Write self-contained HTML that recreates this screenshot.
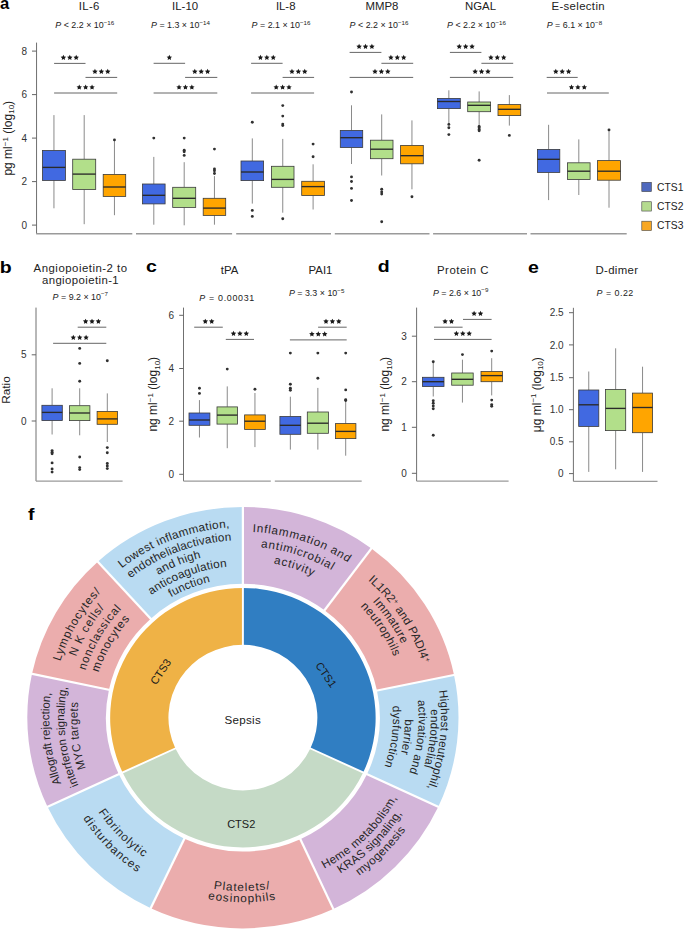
<!DOCTYPE html>
<html><head><meta charset="utf-8"><style>
*{margin:0;padding:0}
html,body{width:685px;height:929px;background:#fff;overflow:hidden}
svg{display:block;font-family:"Liberation Sans", sans-serif}
.wh{stroke:#8a8a8a;stroke-width:1}
.bx{stroke:#3a3a3a;stroke-width:0.8}
.md{stroke:#2a2a2a;stroke-width:1.35}
.ol{fill:#303030}
.sg{stroke:#666;stroke-width:1}
.sp{fill:#1a1a1a}
.st{font-size:10px;fill:#222;text-anchor:middle;letter-spacing:0.3px}
.ya{stroke:#707070;stroke-width:1}
.xa{stroke:#9a9a9a;stroke-width:1.4}
.tk{stroke:#666;stroke-width:1}
.tl{font-size:10px;fill:#333}
.ti{font-size:11.4px;fill:#222}
.pv{font-size:8.9px;fill:#222}
.yl{font-size:12px;fill:#222}
.lg{font-size:10.3px;fill:#222}
.pl{font-size:16px;font-weight:bold;fill:#000}
.dn{font-size:11px;fill:#1a1a1a}
.ot{font-size:10.5px;fill:#262626;letter-spacing:0.6px}
</style></head>
<body><svg width="685" height="929" viewBox="0 0 685 929">
<line x1="36.55" y1="42.6" x2="36.55" y2="233.7" class="ya"/>
<line x1="32" y1="51.1" x2="36.55" y2="51.1" class="tk"/>
<text x="27.00" y="54.70" class="tl" text-anchor="end" >8</text>
<line x1="32" y1="94.6" x2="36.55" y2="94.6" class="tk"/>
<text x="27.00" y="98.20" class="tl" text-anchor="end" >6</text>
<line x1="32" y1="138.1" x2="36.55" y2="138.1" class="tk"/>
<text x="27.00" y="141.70" class="tl" text-anchor="end" >4</text>
<line x1="32" y1="181.6" x2="36.55" y2="181.6" class="tk"/>
<text x="27.00" y="185.20" class="tl" text-anchor="end" >2</text>
<line x1="32" y1="225.1" x2="36.55" y2="225.1" class="tk"/>
<text x="27.00" y="228.70" class="tl" text-anchor="end" >0</text>
<line x1="36.2" y1="233.7" x2="132.3" y2="233.7" class="xa"/>
<line x1="136.0" y1="233.7" x2="232.1" y2="233.7" class="xa"/>
<line x1="236.2" y1="233.7" x2="331.0" y2="233.7" class="xa"/>
<line x1="334.8" y1="233.7" x2="429.5" y2="233.7" class="xa"/>
<line x1="433.1" y1="233.7" x2="527.0" y2="233.7" class="xa"/>
<line x1="530.5" y1="233.7" x2="626.7" y2="233.7" class="xa"/>
<line x1="53.95" y1="115.10" x2="53.95" y2="150.50" class="wh"/>
<line x1="53.95" y1="180.40" x2="53.95" y2="208.30" class="wh"/>
<rect x="42.50" y="150.50" width="22.90" height="29.90" fill="#4169E1" class="bx"/>
<line x1="42.50" y1="167.40" x2="65.40" y2="167.40" class="md"/>
<line x1="84.20" y1="115.10" x2="84.20" y2="159.20" class="wh"/>
<line x1="84.20" y1="189.50" x2="84.20" y2="224.20" class="wh"/>
<rect x="72.70" y="159.20" width="23.00" height="30.30" fill="#B2DF8A" class="bx"/>
<line x1="72.70" y1="174.10" x2="95.70" y2="174.10" class="md"/>
<line x1="114.45" y1="139.90" x2="114.45" y2="174.40" class="wh"/>
<line x1="114.45" y1="196.40" x2="114.45" y2="215.20" class="wh"/>
<rect x="103.20" y="174.40" width="22.50" height="22.00" fill="#FFA500" class="bx"/>
<line x1="103.20" y1="187.00" x2="125.70" y2="187.00" class="md"/>
<circle cx="114.45" cy="139.90" r="1.45" class="ol"/>
<line x1="153.80" y1="156.90" x2="153.80" y2="184.00" class="wh"/>
<line x1="153.80" y1="203.90" x2="153.80" y2="224.70" class="wh"/>
<rect x="142.50" y="184.00" width="22.60" height="19.90" fill="#4169E1" class="bx"/>
<line x1="142.50" y1="195.30" x2="165.10" y2="195.30" class="md"/>
<circle cx="153.80" cy="138.10" r="1.45" class="ol"/>
<line x1="184.20" y1="162.20" x2="184.20" y2="187.30" class="wh"/>
<line x1="184.20" y1="207.40" x2="184.20" y2="225.30" class="wh"/>
<rect x="172.70" y="187.30" width="23.00" height="20.10" fill="#B2DF8A" class="bx"/>
<line x1="172.70" y1="198.30" x2="195.70" y2="198.30" class="md"/>
<circle cx="184.20" cy="138.10" r="1.45" class="ol"/>
<circle cx="184.20" cy="150.20" r="1.45" class="ol"/>
<circle cx="184.20" cy="151.70" r="1.45" class="ol"/>
<circle cx="184.20" cy="155.40" r="1.45" class="ol"/>
<line x1="214.45" y1="176.10" x2="214.45" y2="198.30" class="wh"/>
<line x1="214.45" y1="215.40" x2="214.45" y2="224.70" class="wh"/>
<rect x="203.20" y="198.30" width="22.50" height="17.10" fill="#FFA500" class="bx"/>
<line x1="203.20" y1="208.10" x2="225.70" y2="208.10" class="md"/>
<circle cx="214.45" cy="149.10" r="1.45" class="ol"/>
<circle cx="214.45" cy="169.00" r="1.45" class="ol"/>
<circle cx="214.45" cy="170.80" r="1.45" class="ol"/>
<circle cx="214.45" cy="173.50" r="1.45" class="ol"/>
<line x1="252.30" y1="138.40" x2="252.30" y2="161.00" class="wh"/>
<line x1="252.30" y1="180.60" x2="252.30" y2="203.60" class="wh"/>
<rect x="241.00" y="161.00" width="22.60" height="19.60" fill="#4169E1" class="bx"/>
<line x1="241.00" y1="172.00" x2="263.60" y2="172.00" class="md"/>
<circle cx="252.30" cy="122.30" r="1.45" class="ol"/>
<circle cx="252.30" cy="210.40" r="1.45" class="ol"/>
<circle cx="252.30" cy="216.40" r="1.45" class="ol"/>
<line x1="282.75" y1="138.90" x2="282.75" y2="166.30" class="wh"/>
<line x1="282.75" y1="187.30" x2="282.75" y2="212.70" class="wh"/>
<rect x="271.50" y="166.30" width="22.50" height="21.00" fill="#B2DF8A" class="bx"/>
<line x1="271.50" y1="179.40" x2="294.00" y2="179.40" class="md"/>
<circle cx="282.75" cy="105.60" r="1.45" class="ol"/>
<circle cx="282.75" cy="116.10" r="1.45" class="ol"/>
<circle cx="282.75" cy="124.10" r="1.45" class="ol"/>
<circle cx="282.75" cy="125.60" r="1.45" class="ol"/>
<circle cx="282.75" cy="218.70" r="1.45" class="ol"/>
<line x1="313.10" y1="164.30" x2="313.10" y2="181.30" class="wh"/>
<line x1="313.10" y1="195.50" x2="313.10" y2="209.50" class="wh"/>
<rect x="301.70" y="181.30" width="22.80" height="14.20" fill="#FFA500" class="bx"/>
<line x1="301.70" y1="186.60" x2="324.50" y2="186.60" class="md"/>
<circle cx="313.10" cy="144.10" r="1.45" class="ol"/>
<circle cx="313.10" cy="156.80" r="1.45" class="ol"/>
<line x1="351.50" y1="105.30" x2="351.50" y2="130.40" class="wh"/>
<line x1="351.50" y1="147.50" x2="351.50" y2="164.00" class="wh"/>
<rect x="340.30" y="130.40" width="22.40" height="17.10" fill="#4169E1" class="bx"/>
<line x1="340.30" y1="137.70" x2="362.70" y2="137.70" class="md"/>
<circle cx="351.50" cy="92.00" r="1.45" class="ol"/>
<circle cx="351.50" cy="176.90" r="1.45" class="ol"/>
<circle cx="351.50" cy="181.50" r="1.45" class="ol"/>
<circle cx="351.50" cy="188.40" r="1.45" class="ol"/>
<circle cx="351.50" cy="200.50" r="1.45" class="ol"/>
<line x1="381.70" y1="114.40" x2="381.70" y2="140.20" class="wh"/>
<line x1="381.70" y1="158.70" x2="381.70" y2="175.50" class="wh"/>
<rect x="370.40" y="140.20" width="22.60" height="18.50" fill="#B2DF8A" class="bx"/>
<line x1="370.40" y1="149.20" x2="393.00" y2="149.20" class="md"/>
<circle cx="381.70" cy="189.30" r="1.45" class="ol"/>
<circle cx="381.70" cy="191.90" r="1.45" class="ol"/>
<circle cx="381.70" cy="194.10" r="1.45" class="ol"/>
<circle cx="381.70" cy="221.70" r="1.45" class="ol"/>
<line x1="411.95" y1="120.40" x2="411.95" y2="145.40" class="wh"/>
<line x1="411.95" y1="163.80" x2="411.95" y2="189.30" class="wh"/>
<rect x="400.60" y="145.40" width="22.70" height="18.40" fill="#FFA500" class="bx"/>
<line x1="400.60" y1="155.70" x2="423.30" y2="155.70" class="md"/>
<circle cx="411.95" cy="196.70" r="1.45" class="ol"/>
<line x1="448.85" y1="90.30" x2="448.85" y2="98.40" class="wh"/>
<line x1="448.85" y1="108.60" x2="448.85" y2="123.90" class="wh"/>
<rect x="437.40" y="98.40" width="22.90" height="10.20" fill="#4169E1" class="bx"/>
<line x1="437.40" y1="101.50" x2="460.30" y2="101.50" class="md"/>
<circle cx="448.85" cy="124.40" r="1.45" class="ol"/>
<circle cx="448.85" cy="127.80" r="1.45" class="ol"/>
<circle cx="448.85" cy="134.60" r="1.45" class="ol"/>
<line x1="479.15" y1="91.40" x2="479.15" y2="102.00" class="wh"/>
<line x1="479.15" y1="111.70" x2="479.15" y2="126.10" class="wh"/>
<rect x="467.70" y="102.00" width="22.90" height="9.70" fill="#B2DF8A" class="bx"/>
<line x1="467.70" y1="105.30" x2="490.60" y2="105.30" class="md"/>
<circle cx="479.15" cy="126.50" r="1.45" class="ol"/>
<circle cx="479.15" cy="127.80" r="1.45" class="ol"/>
<circle cx="479.15" cy="129.40" r="1.45" class="ol"/>
<circle cx="479.15" cy="130.80" r="1.45" class="ol"/>
<circle cx="479.15" cy="160.20" r="1.45" class="ol"/>
<line x1="509.35" y1="95.10" x2="509.35" y2="104.60" class="wh"/>
<line x1="509.35" y1="115.60" x2="509.35" y2="125.60" class="wh"/>
<rect x="498.00" y="104.60" width="22.70" height="11.00" fill="#FFA500" class="bx"/>
<line x1="498.00" y1="109.30" x2="520.70" y2="109.30" class="md"/>
<circle cx="509.35" cy="135.40" r="1.45" class="ol"/>
<line x1="548.60" y1="124.80" x2="548.60" y2="149.40" class="wh"/>
<line x1="548.60" y1="172.40" x2="548.60" y2="200.10" class="wh"/>
<rect x="537.40" y="149.40" width="22.40" height="23.00" fill="#4169E1" class="bx"/>
<line x1="537.40" y1="159.30" x2="559.80" y2="159.30" class="md"/>
<line x1="578.80" y1="139.40" x2="578.80" y2="162.80" class="wh"/>
<line x1="578.80" y1="179.50" x2="578.80" y2="195.00" class="wh"/>
<rect x="567.50" y="162.80" width="22.60" height="16.70" fill="#B2DF8A" class="bx"/>
<line x1="567.50" y1="171.20" x2="590.10" y2="171.20" class="md"/>
<line x1="609.00" y1="129.90" x2="609.00" y2="160.60" class="wh"/>
<line x1="609.00" y1="180.20" x2="609.00" y2="207.70" class="wh"/>
<rect x="597.50" y="160.60" width="23.00" height="19.60" fill="#FFA500" class="bx"/>
<line x1="597.50" y1="171.20" x2="620.50" y2="171.20" class="md"/>
<circle cx="609.00" cy="129.90" r="1.45" class="ol"/>
<text x="89.30" y="9.90" class="ti" text-anchor="middle" style="letter-spacing:0.35px">IL-6</text>
<text x="185.10" y="9.90" class="ti" text-anchor="middle" >IL-10</text>
<text x="285.70" y="9.90" class="ti" text-anchor="middle" >IL-8</text>
<text x="382.00" y="9.90" class="ti" text-anchor="middle" >MMP8</text>
<text x="480.50" y="9.90" class="ti" text-anchor="middle" >NGAL</text>
<text x="578.20" y="9.90" class="ti" text-anchor="middle" style="letter-spacing:0.35px">E-selectin</text>
<text x="55.30" y="28.40" class="pv"><tspan font-style="italic">P</tspan> &lt; 2.2 × 10<tspan dy="-3.4" font-size="6.2px">−16</tspan></text>
<text x="151.00" y="28.40" class="pv"><tspan font-style="italic">P</tspan> = 1.3 × 10<tspan dy="-3.4" font-size="6.2px">−14</tspan></text>
<text x="251.60" y="28.40" class="pv"><tspan font-style="italic">P</tspan> = 2.1 × 10<tspan dy="-3.4" font-size="6.2px">−16</tspan></text>
<text x="349.60" y="28.40" class="pv"><tspan font-style="italic">P</tspan> &lt; 2.2 × 10<tspan dy="-3.4" font-size="6.2px">−16</tspan></text>
<text x="447.00" y="28.40" class="pv"><tspan font-style="italic">P</tspan> &lt; 2.2 × 10<tspan dy="-3.4" font-size="6.2px">−16</tspan></text>
<text x="546.70" y="28.40" class="pv"><tspan font-style="italic">P</tspan> = 6.1 × 10<tspan dy="-3.4" font-size="6.2px">−8</tspan></text>
<line x1="54.10" y1="63.40" x2="85.50" y2="63.40" class="sg"/>
<polygon points="63.40,54.85 64.22,56.57 66.11,56.82 64.73,58.13 65.08,60.01 63.40,59.10 61.72,60.01 62.07,58.13 60.69,56.82 62.58,56.57" class="sp"/>
<polygon points="69.80,54.85 70.62,56.57 72.51,56.82 71.13,58.13 71.48,60.01 69.80,59.10 68.12,60.01 68.47,58.13 67.09,56.82 68.98,56.57" class="sp"/>
<polygon points="76.20,54.85 77.02,56.57 78.91,56.82 77.53,58.13 77.88,60.01 76.20,59.10 74.52,60.01 74.87,58.13 73.49,56.82 75.38,56.57" class="sp"/>
<line x1="85.50" y1="77.40" x2="117.20" y2="77.40" class="sg"/>
<polygon points="94.95,68.85 95.77,70.57 97.66,70.82 96.28,72.13 96.63,74.01 94.95,73.10 93.27,74.01 93.62,72.13 92.24,70.82 94.13,70.57" class="sp"/>
<polygon points="101.35,68.85 102.17,70.57 104.06,70.82 102.68,72.13 103.03,74.01 101.35,73.10 99.67,74.01 100.02,72.13 98.64,70.82 100.53,70.57" class="sp"/>
<polygon points="107.75,68.85 108.57,70.57 110.46,70.82 109.08,72.13 109.43,74.01 107.75,73.10 106.07,74.01 106.42,72.13 105.04,70.82 106.93,70.57" class="sp"/>
<line x1="54.10" y1="93.00" x2="117.20" y2="93.00" class="sg"/>
<polygon points="79.25,84.45 80.07,86.17 81.96,86.42 80.58,87.73 80.93,89.61 79.25,88.70 77.57,89.61 77.92,87.73 76.54,86.42 78.43,86.17" class="sp"/>
<polygon points="85.65,84.45 86.47,86.17 88.36,86.42 86.98,87.73 87.33,89.61 85.65,88.70 83.97,89.61 84.32,87.73 82.94,86.42 84.83,86.17" class="sp"/>
<polygon points="92.05,84.45 92.87,86.17 94.76,86.42 93.38,87.73 93.73,89.61 92.05,88.70 90.37,89.61 90.72,87.73 89.34,86.42 91.23,86.17" class="sp"/>
<line x1="153.60" y1="63.30" x2="185.10" y2="63.30" class="sg"/>
<polygon points="169.35,54.75 170.17,56.47 172.06,56.72 170.68,58.03 171.03,59.91 169.35,59.00 167.67,59.91 168.02,58.03 166.64,56.72 168.53,56.47" class="sp"/>
<line x1="185.10" y1="77.40" x2="217.30" y2="77.40" class="sg"/>
<polygon points="194.80,68.85 195.62,70.57 197.51,70.82 196.13,72.13 196.48,74.01 194.80,73.10 193.12,74.01 193.47,72.13 192.09,70.82 193.98,70.57" class="sp"/>
<polygon points="201.20,68.85 202.02,70.57 203.91,70.82 202.53,72.13 202.88,74.01 201.20,73.10 199.52,74.01 199.87,72.13 198.49,70.82 200.38,70.57" class="sp"/>
<polygon points="207.60,68.85 208.42,70.57 210.31,70.82 208.93,72.13 209.28,74.01 207.60,73.10 205.92,74.01 206.27,72.13 204.89,70.82 206.78,70.57" class="sp"/>
<line x1="153.60" y1="93.00" x2="217.30" y2="93.00" class="sg"/>
<polygon points="179.05,84.45 179.87,86.17 181.76,86.42 180.38,87.73 180.73,89.61 179.05,88.70 177.37,89.61 177.72,87.73 176.34,86.42 178.23,86.17" class="sp"/>
<polygon points="185.45,84.45 186.27,86.17 188.16,86.42 186.78,87.73 187.13,89.61 185.45,88.70 183.77,89.61 184.12,87.73 182.74,86.42 184.63,86.17" class="sp"/>
<polygon points="191.85,84.45 192.67,86.17 194.56,86.42 193.18,87.73 193.53,89.61 191.85,88.70 190.17,89.61 190.52,87.73 189.14,86.42 191.03,86.17" class="sp"/>
<line x1="251.10" y1="63.30" x2="282.60" y2="63.30" class="sg"/>
<polygon points="260.45,54.75 261.27,56.47 263.16,56.72 261.78,58.03 262.13,59.91 260.45,59.00 258.77,59.91 259.12,58.03 257.74,56.72 259.63,56.47" class="sp"/>
<polygon points="266.85,54.75 267.67,56.47 269.56,56.72 268.18,58.03 268.53,59.91 266.85,59.00 265.17,59.91 265.52,58.03 264.14,56.72 266.03,56.47" class="sp"/>
<polygon points="273.25,54.75 274.07,56.47 275.96,56.72 274.58,58.03 274.93,59.91 273.25,59.00 271.57,59.91 271.92,58.03 270.54,56.72 272.43,56.47" class="sp"/>
<line x1="282.60" y1="77.40" x2="314.10" y2="77.40" class="sg"/>
<polygon points="291.95,68.85 292.77,70.57 294.66,70.82 293.28,72.13 293.63,74.01 291.95,73.10 290.27,74.01 290.62,72.13 289.24,70.82 291.13,70.57" class="sp"/>
<polygon points="298.35,68.85 299.17,70.57 301.06,70.82 299.68,72.13 300.03,74.01 298.35,73.10 296.67,74.01 297.02,72.13 295.64,70.82 297.53,70.57" class="sp"/>
<polygon points="304.75,68.85 305.57,70.57 307.46,70.82 306.08,72.13 306.43,74.01 304.75,73.10 303.07,74.01 303.42,72.13 302.04,70.82 303.93,70.57" class="sp"/>
<line x1="251.10" y1="93.00" x2="314.10" y2="93.00" class="sg"/>
<polygon points="276.20,84.45 277.02,86.17 278.91,86.42 277.53,87.73 277.88,89.61 276.20,88.70 274.52,89.61 274.87,87.73 273.49,86.42 275.38,86.17" class="sp"/>
<polygon points="282.60,84.45 283.42,86.17 285.31,86.42 283.93,87.73 284.28,89.61 282.60,88.70 280.92,89.61 281.27,87.73 279.89,86.42 281.78,86.17" class="sp"/>
<polygon points="289.00,84.45 289.82,86.17 291.71,86.42 290.33,87.73 290.68,89.61 289.00,88.70 287.32,89.61 287.67,87.73 286.29,86.42 288.18,86.17" class="sp"/>
<line x1="349.60" y1="52.40" x2="381.40" y2="52.40" class="sg"/>
<polygon points="359.10,43.85 359.92,45.57 361.81,45.82 360.43,47.13 360.78,49.01 359.10,48.10 357.42,49.01 357.77,47.13 356.39,45.82 358.28,45.57" class="sp"/>
<polygon points="365.50,43.85 366.32,45.57 368.21,45.82 366.83,47.13 367.18,49.01 365.50,48.10 363.82,49.01 364.17,47.13 362.79,45.82 364.68,45.57" class="sp"/>
<polygon points="371.90,43.85 372.72,45.57 374.61,45.82 373.23,47.13 373.58,49.01 371.90,48.10 370.22,49.01 370.57,47.13 369.19,45.82 371.08,45.57" class="sp"/>
<line x1="381.40" y1="63.30" x2="413.20" y2="63.30" class="sg"/>
<polygon points="390.90,54.75 391.72,56.47 393.61,56.72 392.23,58.03 392.58,59.91 390.90,59.00 389.22,59.91 389.57,58.03 388.19,56.72 390.08,56.47" class="sp"/>
<polygon points="397.30,54.75 398.12,56.47 400.01,56.72 398.63,58.03 398.98,59.91 397.30,59.00 395.62,59.91 395.97,58.03 394.59,56.72 396.48,56.47" class="sp"/>
<polygon points="403.70,54.75 404.52,56.47 406.41,56.72 405.03,58.03 405.38,59.91 403.70,59.00 402.02,59.91 402.37,58.03 400.99,56.72 402.88,56.47" class="sp"/>
<line x1="349.60" y1="77.40" x2="413.20" y2="77.40" class="sg"/>
<polygon points="375.00,68.85 375.82,70.57 377.71,70.82 376.33,72.13 376.68,74.01 375.00,73.10 373.32,74.01 373.67,72.13 372.29,70.82 374.18,70.57" class="sp"/>
<polygon points="381.40,68.85 382.22,70.57 384.11,70.82 382.73,72.13 383.08,74.01 381.40,73.10 379.72,74.01 380.07,72.13 378.69,70.82 380.58,70.57" class="sp"/>
<polygon points="387.80,68.85 388.62,70.57 390.51,70.82 389.13,72.13 389.48,74.01 387.80,73.10 386.12,74.01 386.47,72.13 385.09,70.82 386.98,70.57" class="sp"/>
<line x1="449.90" y1="52.40" x2="481.40" y2="52.40" class="sg"/>
<polygon points="459.25,43.85 460.07,45.57 461.96,45.82 460.58,47.13 460.93,49.01 459.25,48.10 457.57,49.01 457.92,47.13 456.54,45.82 458.43,45.57" class="sp"/>
<polygon points="465.65,43.85 466.47,45.57 468.36,45.82 466.98,47.13 467.33,49.01 465.65,48.10 463.97,49.01 464.32,47.13 462.94,45.82 464.83,45.57" class="sp"/>
<polygon points="472.05,43.85 472.87,45.57 474.76,45.82 473.38,47.13 473.73,49.01 472.05,48.10 470.37,49.01 470.72,47.13 469.34,45.82 471.23,45.57" class="sp"/>
<line x1="481.40" y1="63.30" x2="513.20" y2="63.30" class="sg"/>
<polygon points="490.90,54.75 491.72,56.47 493.61,56.72 492.23,58.03 492.58,59.91 490.90,59.00 489.22,59.91 489.57,58.03 488.19,56.72 490.08,56.47" class="sp"/>
<polygon points="497.30,54.75 498.12,56.47 500.01,56.72 498.63,58.03 498.98,59.91 497.30,59.00 495.62,59.91 495.97,58.03 494.59,56.72 496.48,56.47" class="sp"/>
<polygon points="503.70,54.75 504.52,56.47 506.41,56.72 505.03,58.03 505.38,59.91 503.70,59.00 502.02,59.91 502.37,58.03 500.99,56.72 502.88,56.47" class="sp"/>
<line x1="449.90" y1="77.40" x2="513.20" y2="77.40" class="sg"/>
<polygon points="475.15,68.85 475.97,70.57 477.86,70.82 476.48,72.13 476.83,74.01 475.15,73.10 473.47,74.01 473.82,72.13 472.44,70.82 474.33,70.57" class="sp"/>
<polygon points="481.55,68.85 482.37,70.57 484.26,70.82 482.88,72.13 483.23,74.01 481.55,73.10 479.87,74.01 480.22,72.13 478.84,70.82 480.73,70.57" class="sp"/>
<polygon points="487.95,68.85 488.77,70.57 490.66,70.82 489.28,72.13 489.63,74.01 487.95,73.10 486.27,74.01 486.62,72.13 485.24,70.82 487.13,70.57" class="sp"/>
<line x1="546.70" y1="77.40" x2="577.70" y2="77.40" class="sg"/>
<polygon points="555.80,68.85 556.62,70.57 558.51,70.82 557.13,72.13 557.48,74.01 555.80,73.10 554.12,74.01 554.47,72.13 553.09,70.82 554.98,70.57" class="sp"/>
<polygon points="562.20,68.85 563.02,70.57 564.91,70.82 563.53,72.13 563.88,74.01 562.20,73.10 560.52,74.01 560.87,72.13 559.49,70.82 561.38,70.57" class="sp"/>
<polygon points="568.60,68.85 569.42,70.57 571.31,70.82 569.93,72.13 570.28,74.01 568.60,73.10 566.92,74.01 567.27,72.13 565.89,70.82 567.78,70.57" class="sp"/>
<line x1="547.00" y1="93.00" x2="608.80" y2="93.00" class="sg"/>
<polygon points="571.50,84.45 572.32,86.17 574.21,86.42 572.83,87.73 573.18,89.61 571.50,88.70 569.82,89.61 570.17,87.73 568.79,86.42 570.68,86.17" class="sp"/>
<polygon points="577.90,84.45 578.72,86.17 580.61,86.42 579.23,87.73 579.58,89.61 577.90,88.70 576.22,89.61 576.57,87.73 575.19,86.42 577.08,86.17" class="sp"/>
<polygon points="584.30,84.45 585.12,86.17 587.01,86.42 585.63,87.73 585.98,89.61 584.30,88.70 582.62,89.61 582.97,87.73 581.59,86.42 583.48,86.17" class="sp"/>
<text class="yl" transform="translate(11.85,138.25) rotate(-90)" text-anchor="middle">pg ml<tspan dy="-4.2" font-size="8px">−1</tspan><tspan dy="4.2"> (log</tspan><tspan dy="2.6" font-size="8px">10</tspan><tspan dy="-2.6">)</tspan></text>
<rect x="641.8" y="182.30" width="9.6" height="9.3" fill="#4F69BE" stroke="#444" stroke-width="0.6"/>
<text x="657.10" y="190.50" class="lg" text-anchor="start" >CTS1</text>
<rect x="641.8" y="201.75" width="9.6" height="9.3" fill="#B5DB8F" stroke="#444" stroke-width="0.6"/>
<text x="657.10" y="209.95" class="lg" text-anchor="start" >CTS2</text>
<rect x="641.8" y="221.20" width="9.6" height="9.3" fill="#F8A722" stroke="#444" stroke-width="0.6"/>
<text x="657.10" y="229.40" class="lg" text-anchor="start" >CTS3</text>
<text class="pl" transform="translate(0.0,8.8) scale(1.04,1)">a</text>
<text class="pl" transform="translate(-0.3,272.8) scale(1.22,1)">b</text>
<text class="pl" transform="translate(146.0,272.2) scale(1.22,1)">c</text>
<text class="pl" transform="translate(377.8,272.2) scale(1.22,1)">d</text>
<text class="pl" transform="translate(528.0,272.5) scale(1.22,1)">e</text>
<text class="pl" transform="translate(28.0,520.1) scale(1.22,1)">f</text>
<line x1="36" y1="307.6" x2="36" y2="481.1" class="ya"/>
<line x1="36" y1="481.1" x2="122.6" y2="481.1" class="xa"/>
<line x1="31.7" y1="354.8" x2="36" y2="354.8" class="tk"/>
<text x="26.60" y="358.40" class="tl" text-anchor="end" >5</text>
<line x1="31.7" y1="421" x2="36" y2="421" class="tk"/>
<text x="26.60" y="424.60" class="tl" text-anchor="end" >0</text>
<line x1="52.10" y1="388.30" x2="52.10" y2="405.30" class="wh"/>
<line x1="52.10" y1="420.60" x2="52.10" y2="434.50" class="wh"/>
<rect x="41.90" y="405.30" width="20.40" height="15.30" fill="#4169E1" class="bx"/>
<line x1="41.90" y1="412.40" x2="62.30" y2="412.40" class="md"/>
<circle cx="52.10" cy="450.60" r="1.45" class="ol"/>
<circle cx="52.10" cy="452.30" r="1.45" class="ol"/>
<circle cx="52.10" cy="453.70" r="1.45" class="ol"/>
<circle cx="52.10" cy="462.90" r="1.45" class="ol"/>
<circle cx="52.10" cy="469.00" r="1.45" class="ol"/>
<circle cx="52.10" cy="472.10" r="1.45" class="ol"/>
<line x1="79.70" y1="388.30" x2="79.70" y2="405.70" class="wh"/>
<line x1="79.70" y1="420.60" x2="79.70" y2="435.30" class="wh"/>
<rect x="69.50" y="405.70" width="20.40" height="14.90" fill="#B2DF8A" class="bx"/>
<line x1="69.50" y1="413.00" x2="89.90" y2="413.00" class="md"/>
<circle cx="79.70" cy="348.40" r="1.45" class="ol"/>
<circle cx="79.70" cy="363.40" r="1.45" class="ol"/>
<circle cx="79.70" cy="381.30" r="1.45" class="ol"/>
<circle cx="79.70" cy="457.00" r="1.45" class="ol"/>
<circle cx="79.70" cy="467.60" r="1.45" class="ol"/>
<circle cx="79.70" cy="469.60" r="1.45" class="ol"/>
<line x1="107.30" y1="393.40" x2="107.30" y2="411.40" class="wh"/>
<line x1="107.30" y1="424.30" x2="107.30" y2="442.00" class="wh"/>
<rect x="97.10" y="411.40" width="20.40" height="12.90" fill="#FFA500" class="bx"/>
<line x1="97.10" y1="418.90" x2="117.50" y2="418.90" class="md"/>
<circle cx="107.30" cy="360.70" r="1.45" class="ol"/>
<circle cx="107.30" cy="447.60" r="1.45" class="ol"/>
<circle cx="107.30" cy="452.70" r="1.45" class="ol"/>
<circle cx="107.30" cy="463.50" r="1.45" class="ol"/>
<circle cx="107.30" cy="466.00" r="1.45" class="ol"/>
<circle cx="107.30" cy="468.60" r="1.45" class="ol"/>
<line x1="77.70" y1="327.20" x2="106.30" y2="327.20" class="sg"/>
<polygon points="85.60,318.65 86.42,320.37 88.31,320.62 86.93,321.93 87.28,323.81 85.60,322.90 83.92,323.81 84.27,321.93 82.89,320.62 84.78,320.37" class="sp"/>
<polygon points="92.00,318.65 92.82,320.37 94.71,320.62 93.33,321.93 93.68,323.81 92.00,322.90 90.32,323.81 90.67,321.93 89.29,320.62 91.18,320.37" class="sp"/>
<polygon points="98.40,318.65 99.22,320.37 101.11,320.62 99.73,321.93 100.08,323.81 98.40,322.90 96.72,323.81 97.07,321.93 95.69,320.62 97.58,320.37" class="sp"/>
<line x1="53.10" y1="343.30" x2="106.30" y2="343.30" class="sg"/>
<polygon points="73.30,334.75 74.12,336.47 76.01,336.72 74.63,338.03 74.98,339.91 73.30,339.00 71.62,339.91 71.97,338.03 70.59,336.72 72.48,336.47" class="sp"/>
<polygon points="79.70,334.75 80.52,336.47 82.41,336.72 81.03,338.03 81.38,339.91 79.70,339.00 78.02,339.91 78.37,338.03 76.99,336.72 78.88,336.47" class="sp"/>
<polygon points="86.10,334.75 86.92,336.47 88.81,336.72 87.43,338.03 87.78,339.91 86.10,339.00 84.42,339.91 84.77,338.03 83.39,336.72 85.28,336.47" class="sp"/>
<text x="80.60" y="272.30" class="ti" text-anchor="middle" style="letter-spacing:0.5px">Angiopoietin-2 to</text>
<text x="80.50" y="283.50" class="ti" text-anchor="middle" style="letter-spacing:0.4px">angiopoietin-1</text>
<text x="52.60" y="299.60" class="pv"><tspan font-style="italic">P</tspan> = 9.2 × 10<tspan dy="-3.4" font-size="6.2px">−7</tspan></text>
<text class="yl" style="font-size:11.8px" transform="translate(9.9,390.05) rotate(-90)" text-anchor="middle">Ratio</text>
<line x1="183.5" y1="307.6" x2="183.5" y2="481.1" class="ya"/>
<line x1="183.5" y1="481.1" x2="270.8" y2="481.1" class="xa"/>
<line x1="274.8" y1="481.1" x2="361.7" y2="481.1" class="xa"/>
<line x1="179.2" y1="315.3" x2="183.5" y2="315.3" class="tk"/>
<text x="174.00" y="318.90" class="tl" text-anchor="end" >6</text>
<line x1="179.2" y1="368.5" x2="183.5" y2="368.5" class="tk"/>
<text x="174.00" y="372.10" class="tl" text-anchor="end" >4</text>
<line x1="179.2" y1="421.2" x2="183.5" y2="421.2" class="tk"/>
<text x="174.00" y="424.80" class="tl" text-anchor="end" >2</text>
<line x1="179.2" y1="474.3" x2="183.5" y2="474.3" class="tk"/>
<text x="174.00" y="477.90" class="tl" text-anchor="end" >0</text>
<line x1="199.45" y1="400.10" x2="199.45" y2="413.00" class="wh"/>
<line x1="199.45" y1="425.30" x2="199.45" y2="437.50" class="wh"/>
<rect x="189.00" y="413.00" width="20.90" height="12.30" fill="#4169E1" class="bx"/>
<line x1="189.00" y1="420.00" x2="209.90" y2="420.00" class="md"/>
<circle cx="199.45" cy="388.30" r="1.45" class="ol"/>
<circle cx="199.45" cy="393.40" r="1.45" class="ol"/>
<line x1="227.25" y1="386.40" x2="227.25" y2="406.90" class="wh"/>
<line x1="227.25" y1="424.10" x2="227.25" y2="448.20" class="wh"/>
<rect x="217.00" y="406.90" width="20.50" height="17.20" fill="#B2DF8A" class="bx"/>
<line x1="217.00" y1="415.10" x2="237.50" y2="415.10" class="md"/>
<circle cx="227.25" cy="369.10" r="1.45" class="ol"/>
<line x1="254.95" y1="393.00" x2="254.95" y2="414.90" class="wh"/>
<line x1="254.95" y1="429.40" x2="254.95" y2="447.10" class="wh"/>
<rect x="244.60" y="414.90" width="20.70" height="14.50" fill="#FFA500" class="bx"/>
<line x1="244.60" y1="421.20" x2="265.30" y2="421.20" class="md"/>
<circle cx="254.95" cy="389.30" r="1.45" class="ol"/>
<line x1="290.35" y1="396.70" x2="290.35" y2="416.50" class="wh"/>
<line x1="290.35" y1="434.30" x2="290.35" y2="449.60" class="wh"/>
<rect x="279.90" y="416.50" width="20.90" height="17.80" fill="#4169E1" class="bx"/>
<line x1="279.90" y1="425.30" x2="300.80" y2="425.30" class="md"/>
<circle cx="290.35" cy="353.10" r="1.45" class="ol"/>
<circle cx="290.35" cy="384.20" r="1.45" class="ol"/>
<circle cx="290.35" cy="388.30" r="1.45" class="ol"/>
<circle cx="290.35" cy="390.30" r="1.45" class="ol"/>
<line x1="317.85" y1="387.90" x2="317.85" y2="412.00" class="wh"/>
<line x1="317.85" y1="433.30" x2="317.85" y2="449.60" class="wh"/>
<rect x="307.30" y="412.00" width="21.10" height="21.30" fill="#B2DF8A" class="bx"/>
<line x1="307.30" y1="423.20" x2="328.40" y2="423.20" class="md"/>
<circle cx="317.85" cy="353.10" r="1.45" class="ol"/>
<circle cx="317.85" cy="378.30" r="1.45" class="ol"/>
<line x1="345.70" y1="400.10" x2="345.70" y2="423.60" class="wh"/>
<line x1="345.70" y1="438.60" x2="345.70" y2="455.70" class="wh"/>
<rect x="335.50" y="423.60" width="20.40" height="15.00" fill="#FFA500" class="bx"/>
<line x1="335.50" y1="431.40" x2="355.90" y2="431.40" class="md"/>
<circle cx="345.70" cy="353.10" r="1.45" class="ol"/>
<circle cx="345.70" cy="389.90" r="1.45" class="ol"/>
<circle cx="345.70" cy="399.70" r="1.45" class="ol"/>
<circle cx="345.70" cy="400.50" r="1.45" class="ol"/>
<line x1="194.20" y1="327.20" x2="222.80" y2="327.20" class="sg"/>
<polygon points="205.30,318.65 206.12,320.37 208.01,320.62 206.63,321.93 206.98,323.81 205.30,322.90 203.62,323.81 203.97,321.93 202.59,320.62 204.48,320.37" class="sp"/>
<polygon points="211.70,318.65 212.52,320.37 214.41,320.62 213.03,321.93 213.38,323.81 211.70,322.90 210.02,323.81 210.37,321.93 208.99,320.62 210.88,320.37" class="sp"/>
<line x1="225.80" y1="339.40" x2="254.00" y2="339.40" class="sg"/>
<polygon points="233.50,330.85 234.32,332.57 236.21,332.82 234.83,334.13 235.18,336.01 233.50,335.10 231.82,336.01 232.17,334.13 230.79,332.82 232.68,332.57" class="sp"/>
<polygon points="239.90,330.85 240.72,332.57 242.61,332.82 241.23,334.13 241.58,336.01 239.90,335.10 238.22,336.01 238.57,334.13 237.19,332.82 239.08,332.57" class="sp"/>
<polygon points="246.30,330.85 247.12,332.57 249.01,332.82 247.63,334.13 247.98,336.01 246.30,335.10 244.62,336.01 244.97,334.13 243.59,332.82 245.48,332.57" class="sp"/>
<line x1="318.10" y1="327.20" x2="346.70" y2="327.20" class="sg"/>
<polygon points="326.00,318.65 326.82,320.37 328.71,320.62 327.33,321.93 327.68,323.81 326.00,322.90 324.32,323.81 324.67,321.93 323.29,320.62 325.18,320.37" class="sp"/>
<polygon points="332.40,318.65 333.22,320.37 335.11,320.62 333.73,321.93 334.08,323.81 332.40,322.90 330.72,323.81 331.07,321.93 329.69,320.62 331.58,320.37" class="sp"/>
<polygon points="338.80,318.65 339.62,320.37 341.51,320.62 340.13,321.93 340.48,323.81 338.80,322.90 337.12,323.81 337.47,321.93 336.09,320.62 337.98,320.37" class="sp"/>
<line x1="289.90" y1="339.90" x2="346.70" y2="339.90" class="sg"/>
<polygon points="311.90,331.35 312.72,333.07 314.61,333.32 313.23,334.63 313.58,336.51 311.90,335.60 310.22,336.51 310.57,334.63 309.19,333.32 311.08,333.07" class="sp"/>
<polygon points="318.30,331.35 319.12,333.07 321.01,333.32 319.63,334.63 319.98,336.51 318.30,335.60 316.62,336.51 316.97,334.63 315.59,333.32 317.48,333.07" class="sp"/>
<polygon points="324.70,331.35 325.52,333.07 327.41,333.32 326.03,334.63 326.38,336.51 324.70,335.60 323.02,336.51 323.37,334.63 321.99,333.32 323.88,333.07" class="sp"/>
<text x="229.60" y="273.60" class="ti" text-anchor="middle" >tPA</text>
<text x="320.50" y="273.80" class="ti" text-anchor="middle" >PAI1</text>
<text x="199.2" y="301.0" class="pv" style="letter-spacing:0.7px"><tspan font-style="italic">P</tspan> = 0.00031</text>
<text x="288.90" y="296.30" class="pv"><tspan font-style="italic">P</tspan> = 3.3 × 10<tspan dy="-3.4" font-size="6.2px">−5</tspan></text>
<text class="yl" transform="translate(156.9,394.25) rotate(-90)" text-anchor="middle">ng ml<tspan dy="-4.2" font-size="8px">−1</tspan><tspan dy="4.2"> (log</tspan><tspan dy="2.6" font-size="8px">10</tspan><tspan dy="-2.6">)</tspan></text>
<line x1="416.6" y1="307.6" x2="416.6" y2="481.1" class="ya"/>
<line x1="416.6" y1="481.1" x2="508.6" y2="481.1" class="xa"/>
<line x1="411.9" y1="336.2" x2="416.6" y2="336.2" class="tk"/>
<text x="406.80" y="339.80" class="tl" text-anchor="end" >3</text>
<line x1="411.9" y1="381.7" x2="416.6" y2="381.7" class="tk"/>
<text x="406.80" y="385.30" class="tl" text-anchor="end" >2</text>
<line x1="411.9" y1="427.3" x2="416.6" y2="427.3" class="tk"/>
<text x="406.80" y="430.90" class="tl" text-anchor="end" >1</text>
<line x1="411.9" y1="473.3" x2="416.6" y2="473.3" class="tk"/>
<text x="406.80" y="476.90" class="tl" text-anchor="end" >0</text>
<line x1="433.25" y1="362.30" x2="433.25" y2="377.30" class="wh"/>
<line x1="433.25" y1="386.50" x2="433.25" y2="396.50" class="wh"/>
<rect x="422.50" y="377.30" width="21.50" height="9.20" fill="#4169E1" class="bx"/>
<line x1="422.50" y1="381.70" x2="444.00" y2="381.70" class="md"/>
<circle cx="433.25" cy="361.70" r="1.45" class="ol"/>
<circle cx="433.25" cy="400.80" r="1.45" class="ol"/>
<circle cx="433.25" cy="403.20" r="1.45" class="ol"/>
<circle cx="433.25" cy="405.90" r="1.45" class="ol"/>
<circle cx="433.25" cy="408.70" r="1.45" class="ol"/>
<circle cx="433.25" cy="435.30" r="1.45" class="ol"/>
<line x1="462.45" y1="359.70" x2="462.45" y2="373.00" class="wh"/>
<line x1="462.45" y1="385.20" x2="462.45" y2="402.60" class="wh"/>
<rect x="451.70" y="373.00" width="21.50" height="12.20" fill="#B2DF8A" class="bx"/>
<line x1="451.70" y1="379.30" x2="473.20" y2="379.30" class="md"/>
<circle cx="462.45" cy="354.60" r="1.45" class="ol"/>
<line x1="491.70" y1="358.20" x2="491.70" y2="371.50" class="wh"/>
<line x1="491.70" y1="381.70" x2="491.70" y2="395.40" class="wh"/>
<rect x="481.00" y="371.50" width="21.40" height="10.20" fill="#FFA500" class="bx"/>
<line x1="481.00" y1="375.60" x2="502.40" y2="375.60" class="md"/>
<circle cx="491.70" cy="351.10" r="1.45" class="ol"/>
<circle cx="491.70" cy="400.10" r="1.45" class="ol"/>
<circle cx="491.70" cy="404.60" r="1.45" class="ol"/>
<circle cx="491.70" cy="406.30" r="1.45" class="ol"/>
<line x1="434.00" y1="327.20" x2="462.60" y2="327.20" class="sg"/>
<polygon points="445.10,318.65 445.92,320.37 447.81,320.62 446.43,321.93 446.78,323.81 445.10,322.90 443.42,323.81 443.77,321.93 442.39,320.62 444.28,320.37" class="sp"/>
<polygon points="451.50,318.65 452.32,320.37 454.21,320.62 452.83,321.93 453.18,323.81 451.50,322.90 449.82,323.81 450.17,321.93 448.79,320.62 450.68,320.37" class="sp"/>
<line x1="463.00" y1="319.40" x2="491.60" y2="319.40" class="sg"/>
<polygon points="474.10,310.85 474.92,312.57 476.81,312.82 475.43,314.13 475.78,316.01 474.10,315.10 472.42,316.01 472.77,314.13 471.39,312.82 473.28,312.57" class="sp"/>
<polygon points="480.50,310.85 481.32,312.57 483.21,312.82 481.83,314.13 482.18,316.01 480.50,315.10 478.82,316.01 479.17,314.13 477.79,312.82 479.68,312.57" class="sp"/>
<line x1="434.00" y1="339.40" x2="491.60" y2="339.40" class="sg"/>
<polygon points="456.40,330.85 457.22,332.57 459.11,332.82 457.73,334.13 458.08,336.01 456.40,335.10 454.72,336.01 455.07,334.13 453.69,332.82 455.58,332.57" class="sp"/>
<polygon points="462.80,330.85 463.62,332.57 465.51,332.82 464.13,334.13 464.48,336.01 462.80,335.10 461.12,336.01 461.47,334.13 460.09,332.82 461.98,332.57" class="sp"/>
<polygon points="469.20,330.85 470.02,332.57 471.91,332.82 470.53,334.13 470.88,336.01 469.20,335.10 467.52,336.01 467.87,334.13 466.49,332.82 468.38,332.57" class="sp"/>
<text x="463.00" y="273.80" class="ti" text-anchor="middle" style="letter-spacing:0.5px">Protein C</text>
<text x="432.90" y="295.50" class="pv"><tspan font-style="italic">P</tspan> = 2.6 × 10<tspan dy="-3.4" font-size="6.2px">−9</tspan></text>
<text class="yl" transform="translate(389.2,394.25) rotate(-90)" text-anchor="middle">ng ml<tspan dy="-4.2" font-size="8px">−1</tspan><tspan dy="4.2"> (log</tspan><tspan dy="2.6" font-size="8px">10</tspan><tspan dy="-2.6">)</tspan></text>
<line x1="573.4" y1="307.8" x2="573.4" y2="481.4" class="ya"/>
<line x1="573.4" y1="481.4" x2="657.5" y2="481.4" class="xa"/>
<line x1="569" y1="312.7" x2="573.4" y2="312.7" class="tk"/>
<text x="563.60" y="316.30" class="tl" text-anchor="end" >2.5</text>
<line x1="569" y1="344.9" x2="573.4" y2="344.9" class="tk"/>
<text x="563.60" y="348.50" class="tl" text-anchor="end" >2.0</text>
<line x1="569" y1="377.7" x2="573.4" y2="377.7" class="tk"/>
<text x="563.60" y="381.30" class="tl" text-anchor="end" >1.5</text>
<line x1="569" y1="409.7" x2="573.4" y2="409.7" class="tk"/>
<text x="563.60" y="413.30" class="tl" text-anchor="end" >1.0</text>
<line x1="569" y1="441.8" x2="573.4" y2="441.8" class="tk"/>
<text x="563.60" y="445.40" class="tl" text-anchor="end" >0.5</text>
<line x1="569" y1="473.6" x2="573.4" y2="473.6" class="tk"/>
<text x="563.60" y="477.20" class="tl" text-anchor="end" >0</text>
<line x1="588.75" y1="371.50" x2="588.75" y2="390.00" class="wh"/>
<line x1="588.75" y1="426.40" x2="588.75" y2="471.90" class="wh"/>
<rect x="578.70" y="390.00" width="20.10" height="36.40" fill="#4169E1" class="bx"/>
<line x1="578.70" y1="404.80" x2="598.80" y2="404.80" class="md"/>
<line x1="615.65" y1="348.30" x2="615.65" y2="389.50" class="wh"/>
<line x1="615.65" y1="430.60" x2="615.65" y2="469.30" class="wh"/>
<rect x="605.60" y="389.50" width="20.10" height="41.10" fill="#B2DF8A" class="bx"/>
<line x1="605.60" y1="408.40" x2="625.70" y2="408.40" class="md"/>
<line x1="642.55" y1="366.70" x2="642.55" y2="393.10" class="wh"/>
<line x1="642.55" y1="432.70" x2="642.55" y2="471.90" class="wh"/>
<rect x="632.50" y="393.10" width="20.10" height="39.60" fill="#FFA500" class="bx"/>
<line x1="632.50" y1="407.50" x2="652.60" y2="407.50" class="md"/>
<text x="616.90" y="273.90" class="ti" text-anchor="middle" style="letter-spacing:0.35px">D-dimer</text>
<text x="596.5" y="296" class="pv" style="letter-spacing:0.5px"><tspan font-style="italic">P</tspan> = 0.22</text>
<text class="yl" transform="translate(540.5,394.7) rotate(-90)" text-anchor="middle">μg ml<tspan dy="-4.2" font-size="8px">−1</tspan><tspan dy="4.2"> (log</tspan><tspan dy="2.6" font-size="8px">10</tspan><tspan dy="-2.6">)</tspan></text>
<g transform="translate(242.9,717.65) scale(1.023,1)"><path d="M0.000,-129.750 A129.75,129.75 0 0 1 117.593,54.835 L65.979,30.767 A72.8,72.8 0 0 0 0.000,-72.800 Z" fill="#307EC2"/><path d="M117.593,54.835 A129.75,129.75 0 0 1 -117.593,54.835 L-65.979,30.767 A72.8,72.8 0 0 0 65.979,30.767 Z" fill="#C5DAC6"/><path d="M-117.593,54.835 A129.75,129.75 0 0 1 -0.000,-129.750 L-0.000,-72.800 A72.8,72.8 0 0 0 -65.979,30.767 Z" fill="#EFB246"/><path d="M0.000,-210.750 A210.75,210.75 0 0 1 125.654,-169.194 L79.805,-107.457 A133.85,133.85 0 0 0 0.000,-133.850 Z" fill="#D3B5D9"/><path d="M125.654,-169.194 A210.75,210.75 0 0 1 206.371,-42.737 L131.069,-27.143 A133.85,133.85 0 0 0 79.805,-107.457 Z" fill="#EBADAD"/><path d="M206.371,-42.737 A210.75,210.75 0 0 1 191.004,89.067 L121.309,56.567 A133.85,133.85 0 0 0 131.069,-27.143 Z" fill="#B9DBF2"/><path d="M191.004,89.067 A210.75,210.75 0 0 1 88.400,191.314 L56.144,121.506 A133.85,133.85 0 0 0 121.309,56.567 Z" fill="#D3B5D9"/><path d="M88.400,191.314 A210.75,210.75 0 0 1 -90.066,190.535 L-57.202,121.011 A133.85,133.85 0 0 0 56.144,121.506 Z" fill="#EBADAD"/><path d="M-90.066,190.535 A210.75,210.75 0 0 1 -191.004,89.067 L-121.309,56.567 A133.85,133.85 0 0 0 -57.202,121.011 Z" fill="#B9DBF2"/><path d="M-191.004,89.067 A210.75,210.75 0 0 1 -206.145,-43.817 L-130.925,-27.829 A133.85,133.85 0 0 0 -121.309,56.567 Z" fill="#D3B5D9"/><path d="M-206.145,-43.817 A210.75,210.75 0 0 1 -141.837,-155.877 L-90.083,-99.000 A133.85,133.85 0 0 0 -130.925,-27.829 Z" fill="#EBADAD"/><path d="M-141.837,-155.877 A210.75,210.75 0 0 1 -0.000,-210.750 L-0.000,-133.850 A133.85,133.85 0 0 0 -90.083,-99.000 Z" fill="#B9DBF2"/><line x1="0.000" y1="-71.800" x2="0.000" y2="-130.750" stroke="#fff" stroke-width="1.9"/><line x1="65.073" y1="30.344" x2="118.500" y2="55.257" stroke="#fff" stroke-width="1.9"/><line x1="-65.073" y1="30.344" x2="-118.500" y2="55.257" stroke="#fff" stroke-width="1.9"/><line x1="0.000" y1="-132.850" x2="0.000" y2="-211.750" stroke="#fff" stroke-width="2.2"/><line x1="79.208" y1="-106.654" x2="126.251" y2="-169.997" stroke="#fff" stroke-width="2.2"/><line x1="130.090" y1="-26.940" x2="207.350" y2="-42.940" stroke="#fff" stroke-width="2.2"/><line x1="120.403" y1="56.145" x2="191.911" y2="89.489" stroke="#fff" stroke-width="2.2"/><line x1="55.724" y1="120.598" x2="88.819" y2="192.222" stroke="#fff" stroke-width="2.2"/><line x1="-56.774" y1="120.107" x2="-90.493" y2="191.439" stroke="#fff" stroke-width="2.2"/><line x1="-120.403" y1="56.145" x2="-191.911" y2="89.489" stroke="#fff" stroke-width="2.2"/><line x1="-129.947" y1="-27.621" x2="-207.123" y2="-44.025" stroke="#fff" stroke-width="2.2"/><line x1="-89.410" y1="-98.260" x2="-142.510" y2="-156.617" stroke="#fff" stroke-width="2.2"/></g>
<text x="242.80" y="724.30" class="dn" text-anchor="middle" style="font-size:11.6px;letter-spacing:0.3px">Sepsis</text>
<text class="dn" text-anchor="middle" dominant-baseline="central" transform="translate(326.3,674.7) rotate(55)">CTS1</text>
<text class="dn" text-anchor="middle" dominant-baseline="central" transform="translate(160.5,671.6) rotate(-56)">CTS3</text>
<text class="dn" text-anchor="middle" dominant-baseline="central" transform="translate(241.2,823.5)">CTS2</text>
<defs><path id="ap1" d="M-176.593,-58.403 A186,186 0 0 1 176.593,58.403"/><path id="ap2" d="M-162.826,-53.850 A171.5,171.5 0 0 1 162.826,53.850"/><path id="ap3" d="M-148.887,-49.817 A157,157 0 0 1 148.887,49.817"/><path id="ap4" d="M-99.404,-154.838 A184,184 0 0 1 99.404,154.838"/><path id="ap5" d="M-95.932,-142.762 A172,172 0 0 1 95.932,142.762"/><path id="ap6" d="M-87.610,-133.882 A160,160 0 0 1 87.610,133.882"/><path id="ap7" d="M22.587,-192.278 A193.6,193.6 0 0 1 -22.587,192.278"/><path id="ap8" d="M20.829,-182.817 A184,184 0 0 1 -20.829,182.817"/><path id="ap9" d="M19.448,-170.696 A171.8,171.8 0 0 1 -19.448,170.696"/><path id="ap10" d="M19.042,-157.352 A158.5,158.5 0 0 1 -19.042,157.352"/><path id="ap11" d="M19.187,-145.742 A147,147 0 0 1 -19.187,145.742"/><path id="ap12" d="M-120.914,120.492 A170.7,170.7 0 0 0 120.914,-120.492"/><path id="ap13" d="M-129.414,128.963 A182.7,182.7 0 0 0 129.414,-128.963"/><path id="ap14" d="M-136.951,138.393 A194.7,194.7 0 0 0 136.951,-138.393"/><path id="ap15" d="M-173.698,-0.758 A173.7,173.7 0 0 0 173.698,0.758"/><path id="ap16" d="M-184.898,-0.807 A184.9,184.9 0 0 0 184.898,0.807"/><path id="ap17" d="M-119.226,-120.902 A169.8,169.8 0 0 0 119.226,120.902"/><path id="ap18" d="M-130.831,-132.209 A186,186 0 0 0 130.831,132.209"/><path id="ap19" d="M21.123,188.319 A189.5,189.5 0 0 1 -21.123,-188.319"/><path id="ap20" d="M19.451,173.413 A174.5,174.5 0 0 1 -19.451,-173.413"/><path id="ap21" d="M18.058,160.990 A162,162 0 0 1 -18.058,-160.990"/><path id="ap22" d="M-93.466,162.543 A187.5,187.5 0 0 1 93.466,-162.543"/><path id="ap23" d="M-86.986,151.273 A174.5,174.5 0 0 1 86.986,-151.273"/><path id="ap24" d="M-80.257,139.570 A161,161 0 0 1 80.257,-139.570"/><path id="ap25" d="M-73.776,128.301 A148,148 0 0 1 73.776,-128.301"/><path id="ap26" d="M-178.194,68.759 A191,191 0 0 1 178.194,-68.759"/><path id="ap27" d="M-166.288,63.499 A178,178 0 0 1 166.288,-63.499"/><path id="ap28" d="M-152.769,62.344 A165,165 0 0 1 152.769,-62.344"/><path id="ap29" d="M-141.904,54.472 A152,152 0 0 1 141.904,-54.472"/><path id="ap30" d="M-129.614,51.580 A139.5,139.5 0 0 1 129.614,-51.580"/></defs>
<g transform="translate(242.9,717.65) scale(1.023,1)"><text class="ot" style="font-size:11.5px;letter-spacing:0.75px"><textPath href="#ap1" startOffset="50%" text-anchor="middle">Inflammation and</textPath></text><text class="ot" style="font-size:11.5px;letter-spacing:0.75px"><textPath href="#ap2" startOffset="50%" text-anchor="middle">antimicrobial</textPath></text><text class="ot" style="font-size:11.5px;letter-spacing:0.75px"><textPath href="#ap3" startOffset="50%" text-anchor="middle">activity</textPath></text><text class="ot" style="font-size:11.5px;letter-spacing:0.2px"><textPath href="#ap4" startOffset="50%" text-anchor="middle">IL1R2<tspan font-size="7px" dy="-3.5">+</tspan><tspan dy="3.5"> and PADI4</tspan><tspan font-size="7px" dy="-3.5">+</tspan></textPath></text><text class="ot" style="font-size:11.5px;letter-spacing:0.4px"><textPath href="#ap5" startOffset="50%" text-anchor="middle">Immature</textPath></text><text class="ot" style="font-size:11.5px;letter-spacing:0.4px"><textPath href="#ap6" startOffset="50%" text-anchor="middle">neutrophils</textPath></text><text class="ot" style="font-size:11.5px;letter-spacing:0.2px"><textPath href="#ap7" startOffset="50%" text-anchor="middle">Highest neutrophil,</textPath></text><text class="ot" style="font-size:11.5px;letter-spacing:0.25px"><textPath href="#ap8" startOffset="50%" text-anchor="middle">endothelial</textPath></text><text class="ot" style="font-size:11.5px;letter-spacing:0.2px"><textPath href="#ap9" startOffset="50%" text-anchor="middle">activation and</textPath></text><text class="ot" style="font-size:11.5px;letter-spacing:0.25px"><textPath href="#ap10" startOffset="50%" text-anchor="middle">barrier</textPath></text><text class="ot" style="font-size:11.5px;letter-spacing:0.3px"><textPath href="#ap11" startOffset="50%" text-anchor="middle">dysfunction</textPath></text><text class="ot" style="font-size:11.5px;letter-spacing:0.4px"><textPath href="#ap12" startOffset="50%" text-anchor="middle">Heme metabolism,</textPath></text><text class="ot" style="font-size:11.5px;letter-spacing:0.2px"><textPath href="#ap13" startOffset="50%" text-anchor="middle">KRAS signaling,</textPath></text><text class="ot" style="font-size:11.5px;letter-spacing:0.4px"><textPath href="#ap14" startOffset="50%" text-anchor="middle">myogenesis</textPath></text><text class="ot" style="font-size:11.5px;letter-spacing:0.9px"><textPath href="#ap15" startOffset="50%" text-anchor="middle">Platelets/</textPath></text><text class="ot" style="font-size:11.5px;letter-spacing:0.9px"><textPath href="#ap16" startOffset="50%" text-anchor="middle">eosinophils</textPath></text><text class="ot" style="font-size:11.5px;letter-spacing:0.8px"><textPath href="#ap17" startOffset="50%" text-anchor="middle">Fibrinolytic</textPath></text><text class="ot" style="font-size:11.5px;letter-spacing:1.0px"><textPath href="#ap18" startOffset="50%" text-anchor="middle">disturbances</textPath></text><text class="ot" style="font-size:11.5px;letter-spacing:0.0px"><textPath href="#ap19" startOffset="50%" text-anchor="middle">Allograft rejection,</textPath></text><text class="ot" style="font-size:11.5px;letter-spacing:0.0px"><textPath href="#ap20" startOffset="50%" text-anchor="middle">interferon signaling,</textPath></text><text class="ot" style="font-size:11.5px;letter-spacing:0.3px"><textPath href="#ap21" startOffset="50%" text-anchor="middle">MYC targets</textPath></text><text class="ot" style="font-size:11.5px;letter-spacing:0.9px"><textPath href="#ap22" startOffset="50%" text-anchor="middle">Lymphocytes/</textPath></text><text class="ot" style="font-size:11.5px;letter-spacing:0.9px"><textPath href="#ap23" startOffset="50%" text-anchor="middle">N K cells/</textPath></text><text class="ot" style="font-size:11.5px;letter-spacing:0.8px"><textPath href="#ap24" startOffset="50%" text-anchor="middle">nonclassical</textPath></text><text class="ot" style="font-size:11.5px;letter-spacing:0.8px"><textPath href="#ap25" startOffset="50%" text-anchor="middle">monocytes</textPath></text><text class="ot" style="font-size:11.5px;letter-spacing:0.35px"><textPath href="#ap26" startOffset="50%" text-anchor="middle">Lowest inflammation,</textPath></text><text class="ot" style="font-size:11.5px;letter-spacing:0.15px"><textPath href="#ap27" startOffset="50%" text-anchor="middle">endothelialactivation</textPath></text><text class="ot" style="font-size:11.5px;letter-spacing:0.2px"><textPath href="#ap28" startOffset="50%" text-anchor="middle">and high</textPath></text><text class="ot" style="font-size:11.5px;letter-spacing:0.2px"><textPath href="#ap29" startOffset="50%" text-anchor="middle">anticoagulation</textPath></text><text class="ot" style="font-size:11.5px;letter-spacing:0.2px"><textPath href="#ap30" startOffset="50%" text-anchor="middle">function</textPath></text></g>
</svg></body></html>
